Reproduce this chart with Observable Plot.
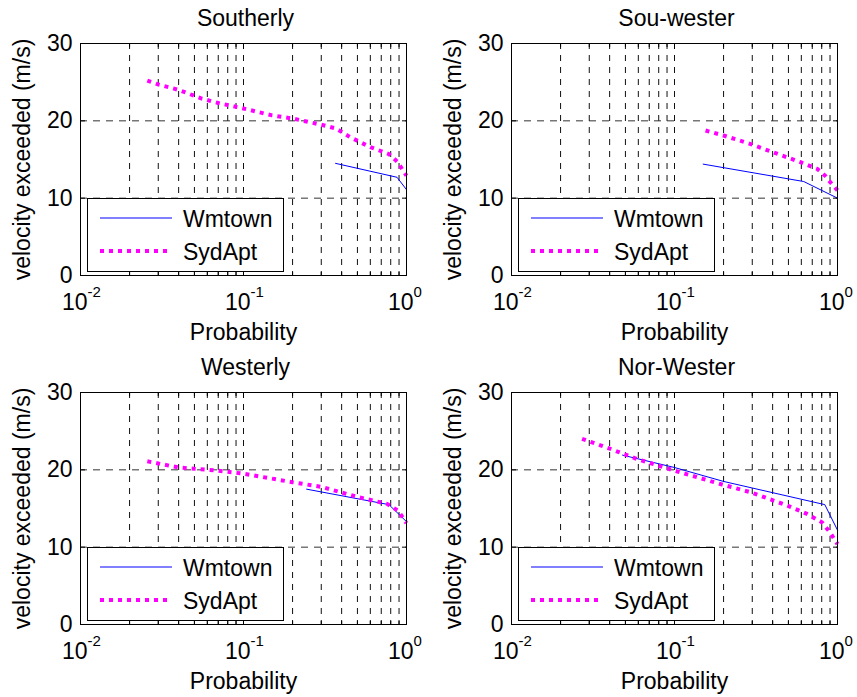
<!DOCTYPE html>
<html>
<head>
<meta charset="utf-8">
<script src="https://cdn.jsdelivr.net/npm/d3@7"></script>
<script src="https://cdn.jsdelivr.net/npm/@observablehq/plot@0.6"></script>
<style>
  body { margin: 0; background: #fff; }
  #fig { position: relative; width: 857px; height: 697px; background: #fff; overflow: hidden;
         font-family: "Liberation Sans", Arial, Helvetica, sans-serif; }
  .panel { position: absolute; }
  .legend { position: absolute; }
</style>
</head>
<body>
<div id="fig"></div>
<script>
// Exceedance probability (x) and wind velocity exceeded in m/s (y), per direction.
const southerlyWmtownP = [0.367, 0.875, 1.0];
const southerlyWmtownV = [14.5, 12.7, 11.1];
const southerlySydAptP = [0.0257, 0.03, 0.04, 0.055, 0.07, 0.1, 0.15, 0.2, 0.3, 0.37, 0.45, 0.6, 0.78, 0.88, 1.0];
const southerlySydAptV = [25.2, 24.7, 24.0, 22.9, 22.3, 21.6, 20.7, 20.3, 19.5, 19.0, 17.9, 16.6, 15.7, 14.7, 12.9];

const souwesterWmtownP = [0.15, 0.621, 1.0];
const souwesterWmtownV = [14.4, 12.15, 10.0];
const souwesterSydAptP = [0.155, 0.2, 0.293, 0.407, 0.593, 0.75, 0.84, 0.9, 1.0];
const souwesterSydAptV = [18.75, 18.1, 17.0, 15.9, 14.65, 13.8, 12.9, 12.1, 11.0];

const westerlyWmtownP = [0.244, 0.78, 1.0];
const westerlyWmtownV = [17.5, 15.5, 13.3];
const westerlySydAptP = [0.0257, 0.04, 0.069, 0.1, 0.2, 0.3, 0.5, 0.76, 0.89, 1.0];
const westerlySydAptV = [21.1, 20.3, 19.9, 19.5, 18.4, 17.8, 16.5, 15.6, 14.7, 13.1];

const norwesterWmtownP = [0.048, 0.1, 0.2, 0.836, 1.0];
const norwesterWmtownV = [21.9, 20.3, 18.5, 15.5, 12.2];
const norwesterSydAptP = [0.0271, 0.0405, 0.059, 0.1, 0.196, 0.293, 0.49, 0.65, 0.805, 0.9, 1.0];
const norwesterSydAptV = [24.0, 22.7, 21.4, 19.9, 18.1, 17.1, 15.4, 14.3, 13.2, 11.9, 10.4];

const titles = ["Southerly", "Sou-wester", "Westerly", "Nor-Wester"];
const seriesNames = ["Wmtown", "SydApt"];

// Axis ticks and labels
const yTicks = [0, 10, 20, 30];
const yGrid = [10, 20];
const xDecades = [0.01, 0.1, 1];
const xExponents = ["-2", "-1", "0"];
const xMinor = [0.02, 0.03, 0.04, 0.05, 0.06, 0.07, 0.08, 0.09, 0.2, 0.3, 0.4, 0.5, 0.6, 0.7, 0.8, 0.9];
const xGrid = [0.02, 0.03, 0.04, 0.05, 0.06, 0.07, 0.08, 0.09, 0.1, 0.2, 0.3, 0.4, 0.5, 0.6, 0.7, 0.8, 0.9];

const panels = [
  {title: titles[0], left: 0,   top: 0,   wmP: southerlyWmtownP, wmV: southerlyWmtownV, saP: southerlySydAptP, saV: southerlySydAptV},
  {title: titles[1], left: 431, top: 0,   wmP: souwesterWmtownP, wmV: souwesterWmtownV, saP: souwesterSydAptP, saV: souwesterSydAptV},
  {title: titles[2], left: 0,   top: 349, wmP: westerlyWmtownP,  wmV: westerlyWmtownV,  saP: westerlySydAptP,  saV: westerlySydAptV},
  {title: titles[3], left: 431, top: 349, wmP: norwesterWmtownP, wmV: norwesterWmtownV, saP: norwesterSydAptP, saV: norwesterSydAptV}
];

const FONT = "'Liberation Sans', Arial, Helvetica, sans-serif";
const W = 430, H = 348, ML = 80, MR = 24, MT = 43, MB = 73;
const BLUE = "#0000ff", MAGENTA = "#ff00ff";
const DOTS = "4,5";

const fig = document.getElementById("fig");

for (const cfg of panels) {
  const wm = cfg.wmP.map((p, i) => ({p, v: cfg.wmV[i]}));
  const sa = cfg.saP.map((p, i) => ({p, v: cfg.saV[i]}));

  const chart = Plot.plot({
    width: W, height: H,
    marginLeft: ML, marginRight: MR, marginTop: MT, marginBottom: MB,
    x: {type: "log", domain: [0.01, 1]},
    y: {domain: [0, 30]},
    style: {fontFamily: FONT, fontSize: "23px", background: "white", color: "black", overflow: "visible"},
    marks: [
      Plot.ruleX(xGrid, {stroke: "#111", strokeWidth: 1, strokeDasharray: "6,6"}),
      Plot.ruleY(yGrid, {stroke: "#333", strokeWidth: 1, strokeDasharray: "7,6"}),
      // Wmtown first, SydApt drawn over it as square dots
      Plot.line(wm, {x: "p", y: "v", stroke: BLUE, strokeWidth: 1}),
      Plot.line(sa, {x: "p", y: "v", stroke: MAGENTA, strokeWidth: 4, strokeDasharray: DOTS,
                     strokeLinecap: "butt", strokeLinejoin: "miter"}),
      Plot.frame({stroke: "black", strokeWidth: 1}),
      // inward ticks on all four sides
      Plot.axisX({anchor: "bottom", ticks: xMinor, tickSize: 3, dy: -3, fill: "none", label: null}),
      Plot.axisX({anchor: "top", ticks: xMinor, tickSize: 3, dy: 3, fill: "none", label: null}),
      Plot.axisX({anchor: "bottom", ticks: xDecades, tickSize: 5, dy: -5, fill: "none", label: null}),
      Plot.axisX({anchor: "top", ticks: xDecades, tickSize: 5, dy: 5, fill: "none", label: null}),
      Plot.axisY({anchor: "right", ticks: yTicks, tickSize: 5, dx: -5, fill: "none", label: null}),
      Plot.axisY({anchor: "left", ticks: yTicks, tickSize: 5, dx: 5, fill: "none", label: null}),
      Plot.axisY({anchor: "left", ticks: yTicks, tickSize: 0, tickPadding: 8, label: null, fontSize: 23}),
      // decade labels: 10 with a raised exponent
      Plot.text(xDecades, {x: d => d, frameAnchor: "bottom", text: () => "10", textAnchor: "end",
                           lineAnchor: "bottom", dx: 7, dy: 34, fontSize: 23}),
      Plot.text(xDecades, {x: d => d, frameAnchor: "bottom", text: (d, i) => xExponents[i], textAnchor: "start",
                           lineAnchor: "bottom", dx: 7, dy: 21.5, fontSize: 15}),
      Plot.text([cfg.title], {text: d => d, frameAnchor: "top", lineAnchor: "bottom", dy: -18, dx: 2, fontSize: 23}),
      Plot.text(["Probability"], {text: d => d, frameAnchor: "bottom", lineAnchor: "bottom", dy: 64, fontSize: 23}),
      Plot.text(["velocity exceeded (m/s)"], {text: d => d, frameAnchor: "left", rotate: -90, textAnchor: "middle",
                           lineAnchor: "bottom", dx: -50.5, fontSize: 23})
    ]
  });
  chart.classList.add("panel");
  chart.style.left = cfg.left + "px";
  chart.style.top = cfg.top + "px";
  fig.appendChild(chart);

  // legend box in the lower-left corner of the axes
  const lw = 197, lh = 74;
  const legend = d3.create("svg")
    .attr("class", "legend")
    .attr("width", lw).attr("height", lh)
    .style("left", (cfg.left + ML + 7) + "px")
    .style("top", (cfg.top + MT + 155) + "px")
    .style("font-family", FONT).style("font-size", "23px");
  legend.append("rect").attr("x", 0.5).attr("y", 0.5).attr("width", lw - 1).attr("height", lh - 1)
    .attr("fill", "white").attr("stroke", "black").attr("stroke-width", 1);
  const rows = [
    {name: seriesNames[0], stroke: BLUE, width: 1, dash: null, y: 20, x2: 85},
    {name: seriesNames[1], stroke: MAGENTA, width: 4, dash: DOTS, y: 53, x2: 81}
  ];
  for (const r of rows) {
    legend.append("line").attr("x1", 13).attr("x2", r.x2).attr("y1", r.y).attr("y2", r.y)
      .attr("stroke", r.stroke).attr("stroke-width", r.width).attr("stroke-dasharray", r.dash);
    legend.append("text").attr("x", 96).attr("y", r.y + 8.5).attr("fill", "black").text(r.name);
  }
  fig.appendChild(legend.node());
}
</script>
</body>
</html>
